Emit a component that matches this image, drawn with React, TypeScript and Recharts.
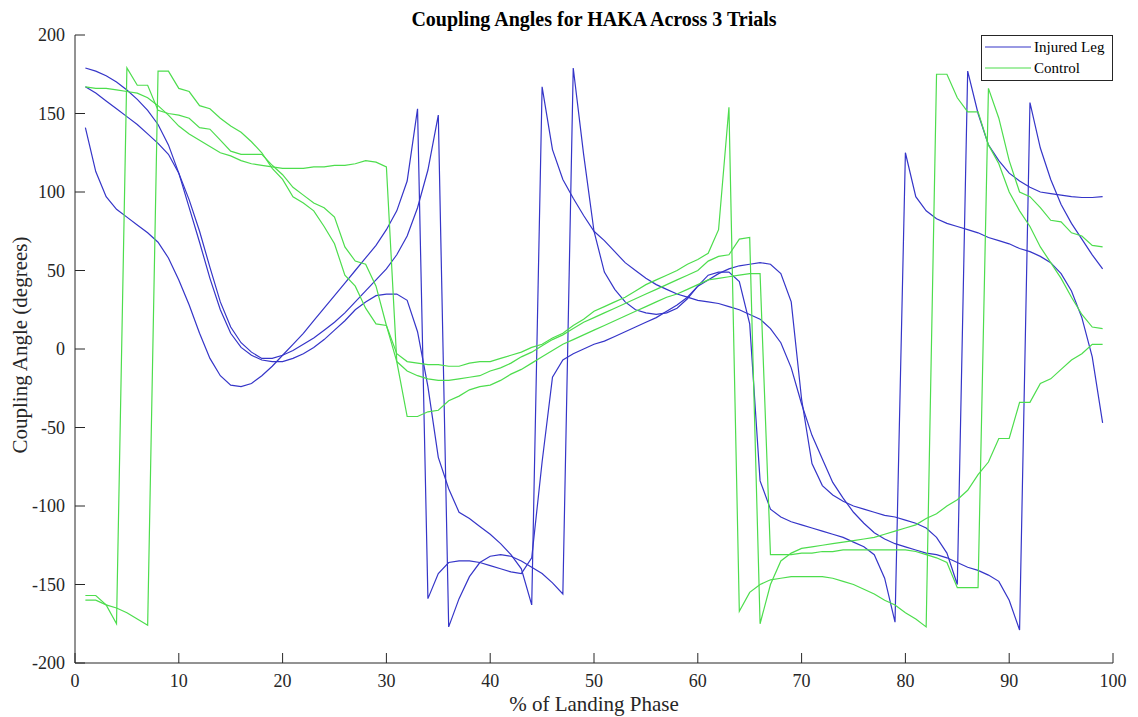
import React from 'react';
import { LineChart, Line, XAxis, YAxis } from 'recharts';

const phase: number[] = Array.from({ length: 99 }, (_, i) => i + 1);

const injured1: number[] = [
  141, 113, 97, 89, 84, 79, 74, 68, 58, 44,
  28, 10, -6, -17, -23, -24, -22, -17, -11, -4,
  3, 10, 18, 26, 34, 42, 50, 58, 66, 76,
  88, 107, 153, -159, -143, -136, -135, -135, -136, -138,
  -140, -142, -143, -133, -72, -18, -7, -3, 0, 3,
  5, 8, 11, 14, 17, 20, 24, 28, 33, 40,
  44, 48, 51, 53, 54, 55, 54, 48, 30, -32,
  -73, -87, -93, -97, -100, -102, -104, -106, -107, -109,
  -111, -114, -120, -130, -150, 177, 150, 130, 120, 112,
  107, 103, 100, 99, 98, 97, 96.5, 96.5, 97,
];

const injured2: number[] = [
  179, 177, 174, 170, 165, 159, 152, 143, 130, 112,
  90, 68, 45, 25, 10, 1, -4, -7, -8, -8,
  -6, -3, 1, 6, 12, 18, 25, 30, 34, 35,
  35, 31, 11, -24, -69, -89, -104, -108, -113, -118,
  -124, -131, -140, -163, 167, 127, 108, 96, 85, 75,
  69, 62, 55, 50, 45, 41, 38, 35, 33, 31,
  30, 29, 27, 25, 22, 19, 13, 4, -12, -35,
  -55, -70, -85, -95, -104, -111, -117, -121, -124, -126,
  -128, -130, -131, -133, -136, -139, -141, -144, -148, -160,
  -179, 157, 128, 108, 92, 80, 70, 60, 51,
];

const injured3: number[] = [
  167, 163, 158, 153, 148, 143, 137, 131, 124, 112,
  95, 75, 52, 30, 14, 4, -2, -6, -6, -4,
  -1, 3, 7, 12, 17, 23, 30, 37, 44, 51,
  60, 72, 90, 114, 149, -177, -159, -145, -136, -132,
  -131, -132, -135, -139, -143, -149, -156, 179, 124, 75,
  49, 38, 30, 25, 23, 22, 23, 26, 32, 40,
  47, 49, 49, 43, 16, -84, -102, -107, -110, -112,
  -114, -116, -118, -120, -123, -126, -131, -146, -174, 125,
  97, 88, 83, 80, 78, 76, 74, 71, 69, 67,
  64, 62, 59, 55, 48, 37, 20, -5, -47,
];

const control1: number[] = [
  -157, -157, -163, -175, 179, 168, 168, 152, 150, 149,
  147, 141, 140, 133, 126, 124, 124, 124, 117, 111,
  103, 98, 93, 90, 84, 65, 56, 54, 40, 15,
  -3, -8, -9, -10, -10, -11, -11, -9, -8, -8,
  -6, -4, -2, 1, 3, 7, 10, 15, 19, 24,
  27, 30, 33, 37, 41, 44, 47, 50, 54, 57,
  61, 76, 154, -167, -155, -150, -147, -146, -145, -145,
  -145, -145, -146, -148, -150, -153, -156, -160, -163, -168,
  -172, -177, 175, 175, 160, 151, 151, 130, 118, 100,
  88, 78, 65, 55, 45, 33, 22, 14, 13,
];

const control2: number[] = [
  -160, -160, -163, -165, -168, -172, -176, 177, 177, 166,
  164, 155, 153, 147, 142, 138, 132, 125, 115, 108,
  97, 93, 88, 78, 67, 47, 40, 26, 16, 15,
  -8, -14, -17, -19, -20, -20, -19, -18, -17, -14,
  -12, -9, -5, -2, 2, 6, 9, 13, 17, 20,
  23, 26, 29, 32, 35, 38, 41, 44, 47, 50,
  56, 59, 60, 70, 71, -175, -150, -135, -130, -127,
  -126, -125, -124, -123, -122, -121, -120, -118, -116, -114,
  -112, -108, -105, -100, -96, -90, -80, -72, -57, -57,
  -34, -34, -22, -19, -13, -7, -3, 3, 3,
];

const control3: number[] = [
  167, 166, 166, 165, 164, 163, 160, 155, 149, 142,
  137, 133, 129, 125, 123, 120, 118, 117, 116, 115,
  115, 115, 116, 116, 117, 117, 118, 120, 119, 116,
  -8, -43, -43, -40, -39, -33, -30, -26, -24, -23,
  -20, -16, -13, -9, -5, -1, 3, 6, 9, 12,
  15, 18, 21, 24, 27, 30, 33, 35, 38, 41,
  44, 45, 46, 47, 48, 48, -131, -131, -131, -130,
  -130, -129, -129, -128, -128, -128, -128, -128, -128, -128,
  -129, -131, -133, -136, -152, -152, -152, 166, 147, 120,
  100, 97, 90, 82, 81, 74, 72, 66, 65,
];

const xTicks: number[] = [0, 10, 20, 30, 40, 50, 60, 70, 80, 90, 100];
const yTicks: number[] = [-200, -150, -100, -50, 0, 50, 100, 150, 200];
const legendLabels: string[] = ['Injured Leg', 'Control'];

const data = phase.map((p, i) => ({
  phase: p,
  i1: injured1[i],
  i2: injured2[i],
  i3: injured3[i],
  c1: control1[i],
  c2: control2[i],
  c3: control3[i],
}));

const BLUE = '#3535c8';
const GREEN = '#4ddd4d';
const AXIS = '#262626';
const FONT = '"Liberation Serif", "Times New Roman", serif';

const XTick = (props: any) => {
  const { x, y, payload } = props;
  return (
    <g>
      <line x1={x} x2={x} y1={y} y2={y - 10} stroke={AXIS} strokeWidth={1} />
      <text x={x} y={y + 24} textAnchor="middle" fontFamily={FONT} fontSize={18} fill={AXIS}>
        {payload.value}
      </text>
    </g>
  );
};

const YTick = (props: any) => {
  const { x, y, payload } = props;
  return (
    <g>
      <line x1={x} x2={x + 10} y1={y} y2={y} stroke={AXIS} strokeWidth={1} />
      <text x={x - 10} y={y + 6} textAnchor="end" fontFamily={FONT} fontSize={18} fill={AXIS}>
        {payload.value}
      </text>
    </g>
  );
};

const LegendBox = () => (
  <svg width={132} height={46} style={{ display: 'block' }}>
    <rect x={0.5} y={0.5} width={131} height={45} fill="#fff" stroke={AXIS} strokeWidth={1} />
    <line x1={4} x2={50} y1={12} y2={12} stroke={BLUE} strokeWidth={1.2} />
    <text x={53} y={17} fontFamily={FONT} fontSize={15} fill="#000">{legendLabels[0]}</text>
    <line x1={4} x2={50} y1={33} y2={33} stroke={GREEN} strokeWidth={1.2} />
    <text x={53} y={38} fontFamily={FONT} fontSize={15} fill="#000">{legendLabels[1]}</text>
  </svg>
);

export default function App() {
  return (
    <div style={{ position: 'relative', width: 1122, height: 709, background: '#fff' }}>
      <div
        style={{
          position: 'absolute',
          left: 67,
          width: 1038,
          top: 0,
          textAlign: 'center',
          fontFamily: FONT,
          fontWeight: 'bold',
          fontSize: 20,
          color: '#000',
          zIndex: 2,
        }}
      >
        Coupling Angles for HAKA Across 3 Trials
      </div>
      <LineChart
        width={1122}
        height={709}
        data={data}
        margin={{ top: 27, right: 17, left: 7, bottom: 24 }}
      >
        <XAxis
          type="number"
          dataKey="phase"
          domain={[0, 100]}
          ticks={xTicks}
          interval={0}
          height={30}
          tickSize={0}
          tickMargin={0}
          tickLine={false}
          tick={<XTick />}
          axisLine={{ stroke: AXIS }}
          label={{
            content: () => (
              <text x={586} y={703} textAnchor="middle" fontFamily={FONT} fontSize={21} fill={AXIS}>
                % of Landing Phase
              </text>
            ),
          }}
        />
        <YAxis
          type="number"
          domain={[-200, 200]}
          ticks={yTicks}
          interval={0}
          width={60}
          tickSize={0}
          tickMargin={0}
          tickLine={false}
          tick={<YTick />}
          axisLine={{ stroke: AXIS }}
          allowDataOverflow
          label={{
            content: () => (
              <text
                x={12}
                y={337}
                transform="rotate(-90 12 337)"
                textAnchor="middle"
                dominantBaseline="central"
                fontFamily={FONT}
                fontSize={21}
                fill={AXIS}
              >
                Coupling Angle (degrees)
              </text>
            ),
          }}
        />
        <Line type="linear" dataKey="i1" stroke={BLUE} strokeWidth={1.2} dot={false} isAnimationActive={false} />
        <Line type="linear" dataKey="i2" stroke={BLUE} strokeWidth={1.2} dot={false} isAnimationActive={false} />
        <Line type="linear" dataKey="i3" stroke={BLUE} strokeWidth={1.2} dot={false} isAnimationActive={false} />
        <Line type="linear" dataKey="c1" stroke={GREEN} strokeWidth={1.2} dot={false} isAnimationActive={false} />
        <Line type="linear" dataKey="c2" stroke={GREEN} strokeWidth={1.2} dot={false} isAnimationActive={false} />
        <Line type="linear" dataKey="c3" stroke={GREEN} strokeWidth={1.2} dot={false} isAnimationActive={false} />
      </LineChart>
      <div style={{ position: 'absolute', left: 973, top: 27, zIndex: 3 }}>
        <LegendBox />
      </div>
    </div>
  );
}
